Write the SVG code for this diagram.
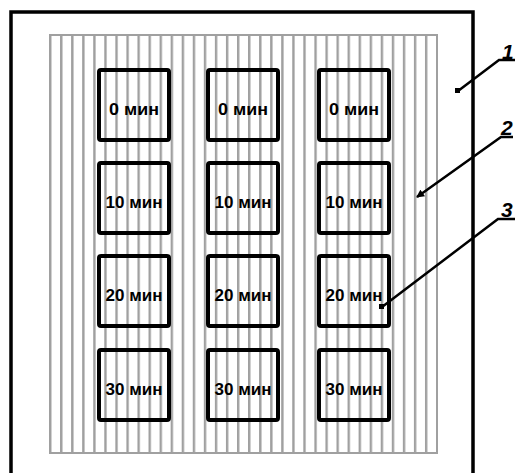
<svg xmlns="http://www.w3.org/2000/svg" width="515" height="473" viewBox="0 0 515 473">
  <style>
    .frame { fill: none; stroke: #000; stroke-width: 3.5; }
    .box { fill: none; stroke: #000; stroke-width: 4; }
    .lbl { font-family: "Liberation Sans", Arial, sans-serif; font-weight: bold; font-size: 17px; fill: #000; text-anchor: middle; }
    .num { font-family: "Liberation Sans", Arial, sans-serif; font-weight: bold; font-style: italic; font-size: 21px; fill: #000; }
    .lead { fill: none; stroke: #000; stroke-width: 2.5; }
  </style>
  <defs>
    <pattern id="stripes" patternUnits="userSpaceOnUse" x="49" y="0" width="11.057" height="10">
      <rect x="0" y="0" width="2.4" height="10" fill="#a0a0a0"/>
    </pattern>
    <marker id="arr" markerWidth="8" markerHeight="8" refX="7" refY="4" orient="auto" markerUnits="userSpaceOnUse" viewBox="0 0 8 8">
      <path d="M0,0 L8,4 L0,8 Z" fill="#000"/>
    </marker>
  </defs>
  <rect width="515" height="473" fill="#fff"/>
  <g id="frame">
    <path class="frame" d="M11,473 V12 H473 V473"/>
  </g>
  <g id="striped-area">
    <rect x="50" y="35" width="387" height="418" fill="url(#stripes)" stroke="#a0a0a0" stroke-width="2"/>
  </g>
  <g id="col1">
    <g id="b-1-0"><rect class="box" x="99" y="70" width="70" height="70" rx="2"/><text class="lbl" x="134" y="115" textLength="50" lengthAdjust="spacingAndGlyphs">0 мин</text></g>
    <g id="b-1-10"><rect class="box" x="99" y="163" width="70" height="70" rx="2"/><text class="lbl" x="134" y="208" textLength="57" lengthAdjust="spacingAndGlyphs">10 мин</text></g>
    <g id="b-1-20"><rect class="box" x="99" y="256" width="70" height="70" rx="2"/><text class="lbl" x="134" y="301" textLength="57" lengthAdjust="spacingAndGlyphs">20 мин</text></g>
    <g id="b-1-30"><rect class="box" x="99" y="350" width="70" height="70" rx="2"/><text class="lbl" x="134" y="395" textLength="57" lengthAdjust="spacingAndGlyphs">30 мин</text></g>
  </g>
  <g id="col2">
    <g id="b-2-0"><rect class="box" x="208" y="70" width="70" height="70" rx="2"/><text class="lbl" x="243" y="115" textLength="50" lengthAdjust="spacingAndGlyphs">0 мин</text></g>
    <g id="b-2-10"><rect class="box" x="208" y="163" width="70" height="70" rx="2"/><text class="lbl" x="243" y="208" textLength="57" lengthAdjust="spacingAndGlyphs">10 мин</text></g>
    <g id="b-2-20"><rect class="box" x="208" y="256" width="70" height="70" rx="2"/><text class="lbl" x="243" y="301" textLength="57" lengthAdjust="spacingAndGlyphs">20 мин</text></g>
    <g id="b-2-30"><rect class="box" x="208" y="350" width="70" height="70" rx="2"/><text class="lbl" x="243" y="395" textLength="57" lengthAdjust="spacingAndGlyphs">30 мин</text></g>
  </g>
  <g id="col3">
    <g id="b-3-0"><rect class="box" x="319" y="70" width="70" height="70" rx="2"/><text class="lbl" x="354" y="115" textLength="50" lengthAdjust="spacingAndGlyphs">0 мин</text></g>
    <g id="b-3-10"><rect class="box" x="319" y="163" width="70" height="70" rx="2"/><text class="lbl" x="354" y="208" textLength="57" lengthAdjust="spacingAndGlyphs">10 мин</text></g>
    <g id="b-3-20"><rect class="box" x="319" y="256" width="70" height="70" rx="2"/><text class="lbl" x="354" y="301" textLength="57" lengthAdjust="spacingAndGlyphs">20 мин</text></g>
    <g id="b-3-30"><rect class="box" x="319" y="350" width="70" height="70" rx="2"/><text class="lbl" x="354" y="395" textLength="57" lengthAdjust="spacingAndGlyphs">30 мин</text></g>
  </g>
  <g id="connectors">
    <path class="lead" d="M515,60 H499 L458,91"/>
    <rect x="455" y="88" width="5" height="5" fill="#000"/>
    <path class="lead" d="M513,137 H501 L417,197" marker-end="url(#arr)"/>
    <path class="lead" d="M515,219 H498 L382,307"/>
    <rect x="379" y="304" width="5" height="5" fill="#000"/>
  </g>
  <g id="labels">
    <text class="num" x="502" y="59">1</text>
    <text class="num" x="501" y="135">2</text>
    <text class="num" x="501" y="217">3</text>
  </g>
</svg>
